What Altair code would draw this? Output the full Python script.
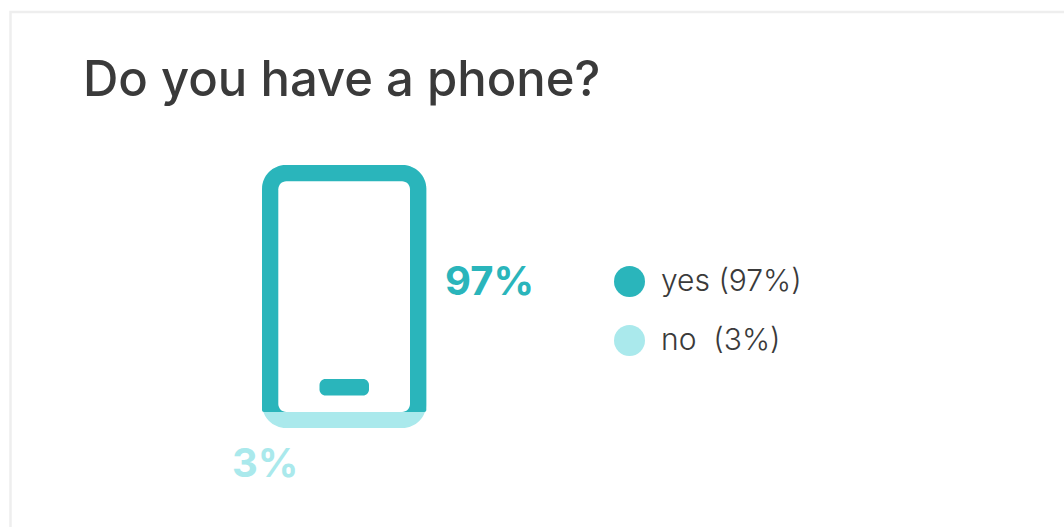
import altair as alt
import pandas as pd

# Survey answers, stacked from the bottom of the phone outline upward
answers = ["no", "yes"]
shares = [3, 97]
legend_labels = ["no\u00a0 (3%)", "yes (97%)"]

TEAL = "#2ab5bb"
PALE = "#aae9ec"
INK = "#3a3a3a"
FONT = "Inter"

df = pd.DataFrame({"answer": answers, "share": shares, "legend": legend_labels})
df["start"] = df["share"].cumsum() - df["share"]
df["end"] = df["share"].cumsum()
df["total"] = df["share"].sum()
df["text"] = df["share"].astype(str) + "%"

# The frame's bottom edge carries the small share, so the scale is piecewise
y_scale = alt.Scale(domain=[0, 3, 100], range=[428, 412, 165])
colour = alt.Color(
    "legend:N",
    scale=alt.Scale(domain=["yes (97%)", "no\u00a0 (3%)"], range=[TEAL, PALE]),
    legend=alt.Legend(
        title=None,
        orient="none",
        legendX=614,
        legendY=266,
        symbolType="circle",
        symbolSize=961,
        symbolStrokeWidth=0,
        symbolOpacity=1,
        labelFont=FONT,
        labelFontSize=30,
        labelFontWeight=300,
        labelColor=INK,
        labelOffset=16,
        labelLimit=300,
        rowPadding=28,
        padding=0,
    ),
)

card = alt.Chart(pd.DataFrame({"c": [0]})).mark_rect(
    fill="white", stroke="#eeeeee", strokeWidth=2.5
).encode(x=alt.value(10.5), x2=alt.value(1100), y=alt.value(12), y2=alt.value(560))

# Pale silhouette of the whole phone; the teal part covers all but the "no" share
frame_no = (
    alt.Chart(df)
    .transform_filter(alt.datum.answer == "no")
    .mark_rect(cornerRadius=24)
    .encode(
        x=alt.value(262),
        x2=alt.value(426.3),
        y=alt.Y("total:Q", scale=y_scale, axis=None),
        y2="start:Q",
        color=colour,
    )
)

frame_yes = (
    alt.Chart(df)
    .transform_filter(alt.datum.answer == "yes")
    .mark_rect(
        cornerRadiusTopLeft=24,
        cornerRadiusTopRight=24,
        cornerRadiusBottomLeft=2,
        cornerRadiusBottomRight=2,
    )
    .encode(
        x=alt.value(262),
        x2=alt.value(426.3),
        y=alt.Y("end:Q", scale=y_scale, axis=None),
        y2="start:Q",
        color=colour,
    )
)

screen = alt.Chart(pd.DataFrame({"c": [0]})).mark_rect(
    fill="white", cornerRadius=8
).encode(x=alt.value(278.3), x2=alt.value(410), y=alt.value(181.3), y2=alt.value(412))

button = alt.Chart(pd.DataFrame({"c": [0]})).mark_rect(
    fill=TEAL, cornerRadius=6
).encode(x=alt.value(319.5), x2=alt.value(369), y=alt.value(379), y2=alt.value(395.5))


def share_label(answer, fill, x, y):
    return (
        alt.Chart(df)
        .transform_filter(alt.datum.answer == answer)
        .mark_text(font=FONT, fontSize=40, fontWeight=700, fill=fill, align="left", baseline="alphabetic")
        .encode(x=alt.value(x), y=alt.value(y), text="text:N")
    )


chart = (
    alt.layer(
        card,
        frame_no,
        frame_yes,
        screen,
        button,
        share_label("yes", TEAL, 445, 295),
        share_label("no", PALE, 232, 477),
    )
    .properties(
        width=1064,
        height=527,
        padding=0,
        autosize=alt.AutoSizeParams(type="none"),
        title=alt.TitleParams(
            "Do you have a phone?",
            anchor="start",
            frame="group",
            font=FONT,
            fontSize=49,
            fontWeight=500,
            color=INK,
            baseline="alphabetic",
            dx=83,
            dy=145,
            offset=0,
        ),
    )
    .configure_view(stroke=None)
)

chart.save("out.html", embed_options={"renderer": "svg", "actions": False})
